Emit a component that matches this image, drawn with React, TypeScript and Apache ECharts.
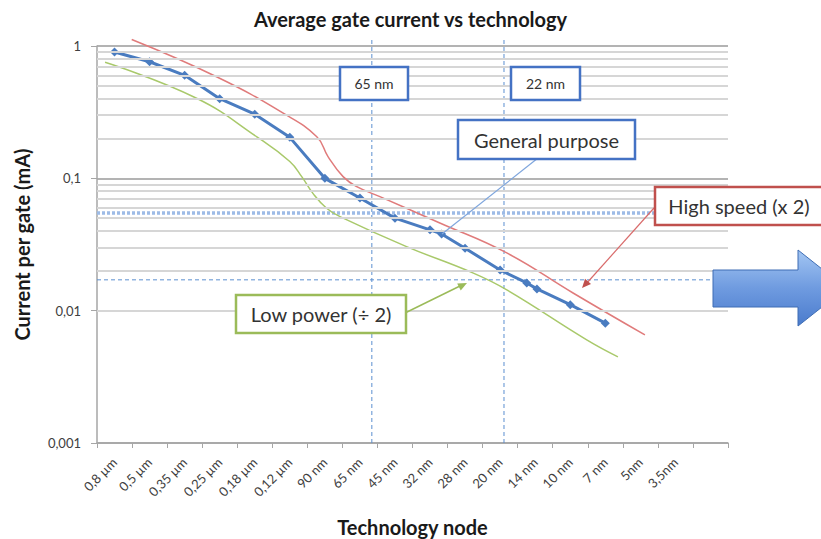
import React, { useEffect, useRef } from "react";
import * as echarts from "echarts";

const categories = ["0,8 µm", "0,5 µm", "0,35 µm", "0,25 µm", "0,18 µm", "0,12 µm", "90 nm", "65 nm", "45 nm", "32 nm", "28 nm", "20 nm", "14 nm", "10 nm", "7 nm", "5nm", "3,5nm", ""];

const generalX = [0.5, 1.5, 2.5, 3.5, 4.5, 5.5, 6.5, 7.5, 8.5, 9.5, 9.83, 10.5, 11.5, 12.26, 12.55, 13.5, 14.5];
const generalY = [0.9, 0.76, 0.6, 0.4, 0.305, 0.204, 0.1, 0.071, 0.05, 0.0408, 0.038, 0.0296, 0.0203, 0.0162, 0.0146, 0.0111, 0.00805];

const highSpeedX = [0.99, 3.41, 5.3, 6.27, 6.59, 7.02, 7.41, 8.07, 9.78, 11.69, 13.58, 15.63];
const highSpeedY = [1.12, 0.586, 0.312, 0.206, 0.146, 0.103, 0.0865, 0.0727, 0.046, 0.0273, 0.0136, 0.00656];

const lowPowerX = [0.23, 2.84, 4.56, 5.5, 5.84, 6.16, 6.55, 6.93, 8.83, 10.72, 11.69, 13.97, 14.86];
const lowPowerY = [0.753, 0.403, 0.206, 0.134, 0.103, 0.077, 0.0594, 0.0514, 0.0305, 0.0193, 0.01436, 0.00602, 0.00448];

const nodeLinesX = [7.84, 11.61];
const nodeLineTop = 1.15;
const dottedLineY = 0.0548;
const dashedLineY = 0.0171;
const decades = [0.001, 0.01, 0.1];
const minorSteps = [2, 3, 4, 5, 6, 7, 8, 9];

const FONT = "Lato, 'Noto Sans', sans-serif";

function arrowHead(x0: number, y0: number, x1: number, y1: number, len: number, half: number) {
  const dx = x1 - x0, dy = y1 - y0;
  const L = Math.sqrt(dx * dx + dy * dy);
  const ux = dx / L, uy = dy / L;
  const bx = x1 - ux * len, by = y1 - uy * len;
  const px = -uy, py = ux;
  return [[x1, y1], [bx + px * half, by + py * half], [bx - px * half, by - py * half]];
}

function box(x: number, y: number, w: number, h: number, color: string, text: string, fontSize: number) {
  return [
    { type: "rect", z: 100, shape: { x, y, width: w, height: h }, style: { fill: "#fff", stroke: color, lineWidth: 2.5 } },
    { type: "text", z: 101, x: x + w / 2, y: y + h / 2, style: { text, fill: "#333", font: `${fontSize}px ${FONT}`, align: "center", verticalAlign: "middle" } },
  ];
}

export default function App() {
  const ref = useRef<HTMLDivElement>(null);
  useEffect(() => {
    if (!ref.current) return;
    const chart = echarts.init(ref.current, undefined, { renderer: "svg" });
    const toPairs = (xs: number[], ys: number[]) => xs.map((x, i) => [x, ys[i]]);
    const minorLines: any[] = [];
    decades.forEach((d) => minorSteps.forEach((k) => minorLines.push({ yAxis: +(d * k).toPrecision(3) })));

    const redHead = arrowHead(654, 208, 582, 288, 9, 4);
    const greenHead = arrowHead(407, 313, 467, 283, 9, 4);

    const refLine = (data: number[][], color: string, width: number, type: any) => ({
      type: "line",
      xAxisIndex: 1,
      data,
      symbol: "none",
      silent: true,
      clip: false,
      z: 2,
      color,
      lineStyle: { color, width, type },
    });

    chart.setOption({
      animation: false,
      backgroundColor: "#fff",
      textStyle: { fontFamily: FONT },
      title: {
        text: "Average gate current vs technology",
        left: "center",
        top: 4,
        textStyle: { fontSize: 20, fontWeight: "bold", color: "#1a1a1a", fontFamily: FONT },
      },
      grid: { left: 97, right: 93, top: 46, bottom: 96, outerBoundsMode: "none", containLabel: false },
      xAxis: [
        {
          type: "category",
          data: categories,
          boundaryGap: true,
          axisLine: { lineStyle: { color: "#a6a6a6", width: 1.5 } },
          axisTick: { show: true, length: 5, lineStyle: { color: "#a6a6a6" } },
          axisLabel: { interval: 0, rotate: 45, fontSize: 13, color: "#404040", fontFamily: FONT, margin: 17 },
          splitLine: { show: false },
          name: "Technology node",
          nameLocation: "middle",
          nameGap: 74,
          nameTextStyle: { fontSize: 20, fontWeight: "bold", color: "#1a1a1a", fontFamily: FONT },
        },
        { type: "value", min: 0, max: 18, show: false },
      ],
      yAxis: {
        type: "log",
        logBase: 10,
        min: 0.001,
        max: 1,
        axisLine: { show: true, lineStyle: { color: "#a6a6a6", width: 1.5 } },
        axisTick: { show: true, length: 6, lineStyle: { color: "#a6a6a6" } },
        axisLabel: {
          fontSize: 13,
          color: "#404040",
          fontFamily: FONT,
          margin: 16,
          formatter: (v: number) => String(Number(v.toPrecision(3))).replace(".", ","),
        },
        splitLine: { show: true, lineStyle: { color: "#b3b3b3", width: 2 } },
        name: "Current per gate (mA)",
        nameLocation: "middle",
        nameGap: 65,
        nameTextStyle: { fontSize: 20, fontWeight: "bold", color: "#1a1a1a", fontFamily: FONT },
      },
      series: [
        {
          name: "grid",
          type: "line",
          xAxisIndex: 1,
          data: [],
          z: 1,
          silent: true,
          markLine: {
            silent: true,
            symbol: "none",
            label: { show: false },
            lineStyle: { color: "#d6d6d6", width: 2, type: "solid" },
            data: minorLines,
          },
        },
        ...nodeLinesX.map((x) => refLine([[x, 0.001], [x, nodeLineTop]], "#5b8fd0", 1, [4, 3])),
        refLine([[0, dottedLineY], [18, dottedLineY]], "#9dbbe6", 3.5, [3, 2]),
        refLine([[0, dashedLineY], [18, dashedLineY]], "#5b8fd0", 1, [4, 3]),
        {
          name: "High speed",
          type: "line",
          xAxisIndex: 1,
          data: toPairs(highSpeedX, highSpeedY),
          smooth: 0.45,
          showSymbol: false,
          symbol: "none",
          clip: false,
          z: 3,
          color: "#e07b7b",
          lineStyle: { color: "#e07b7b", width: 1.5 },
        },
        {
          name: "Low power",
          type: "line",
          xAxisIndex: 1,
          data: toPairs(lowPowerX, lowPowerY),
          smooth: 0.45,
          showSymbol: false,
          symbol: "none",
          z: 3,
          color: "#a9c96b",
          lineStyle: { color: "#a9c96b", width: 1.5 },
        },
        {
          name: "General purpose",
          type: "line",
          xAxisIndex: 1,
          data: toPairs(generalX, generalY),
          symbol: "diamond",
          symbolSize: 9,
          z: 4,
          itemStyle: { color: "#4a7cc0" },
          lineStyle: { color: "#4a7cc0", width: 3 },
        },
      ],
      graphic: [
        ...box(340, 67, 68, 33, "#4472c4", "65 nm", 14),
        ...box(511, 67, 69, 33, "#4472c4", "22 nm", 14),
        { type: "line", z: 99, shape: { x1: 538, y1: 158, x2: 442, y2: 234 }, style: { stroke: "#7fa6dd", lineWidth: 1.2 } },
        ...box(458, 120, 177, 39, "#4472c4", "General purpose", 20),
        { type: "line", z: 99, shape: { x1: 654, y1: 208, x2: 586, y2: 284 }, style: { stroke: "#d96b6b", lineWidth: 1.2 } },
        { type: "polygon", z: 99, shape: { points: redHead }, style: { fill: "#c0504d" } },
        ...box(655, 187, 168, 38, "#c0504d", "High speed (x 2)", 20),
        { type: "line", z: 99, shape: { x1: 405, y1: 313, x2: 462, y2: 285 }, style: { stroke: "#9bbb59", lineWidth: 1.5 } },
        { type: "polygon", z: 99, shape: { points: greenHead }, style: { fill: "#9bbb59" } },
        ...box(236, 295, 170, 38, "#9bbb59", "Low power (÷ 2)", 20),
        {
          type: "polygon",
          z: 100,
          shape: { points: [[713, 270], [798, 270], [798, 250], [846, 288], [798, 326], [798, 307], [713, 307]] },
          style: {
            fill: new echarts.graphic.LinearGradient(0, 0, 0, 1, [
              { offset: 0, color: "#a3c6f3" },
              { offset: 0.5, color: "#6f9be0" },
              { offset: 1, color: "#4a7bcc" },
            ]),
            stroke: "#3e6db4",
            lineWidth: 1,
          },
        },
      ],
    });
    return () => chart.dispose();
  }, []);
  return <div ref={ref} style={{ width: 821, height: 539, position: "absolute", left: 0, top: 0 }} />;
}
